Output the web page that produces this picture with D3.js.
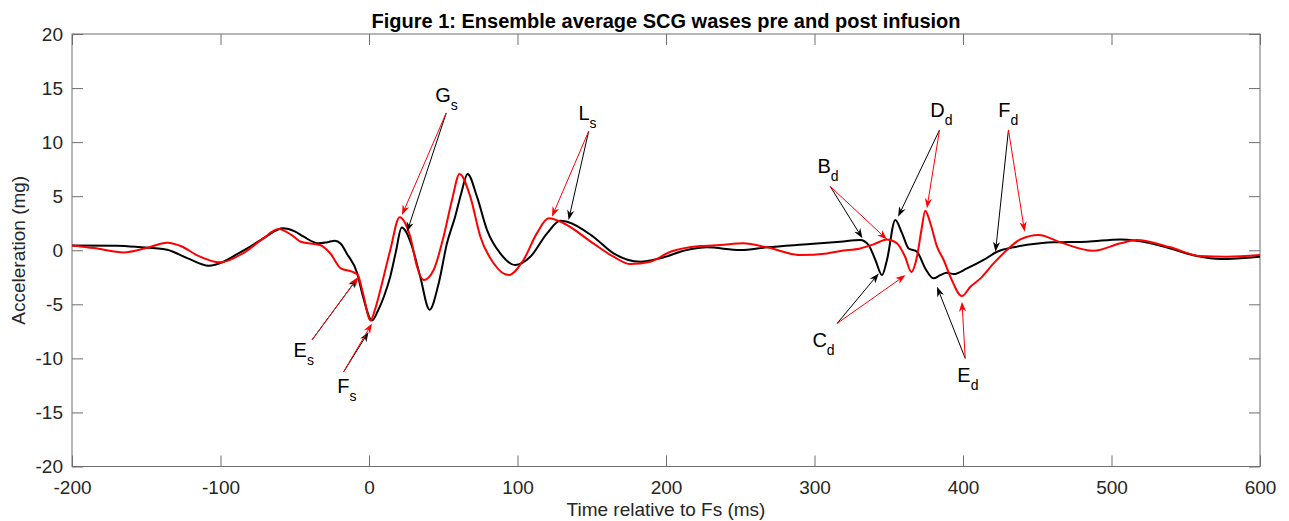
<!DOCTYPE html>
<html>
<head>
<meta charset="utf-8">
<script src="https://cdn.jsdelivr.net/npm/d3@7"></script>
<style>
  body { margin: 0; background: #fff; }
  svg { font-family: "Liberation Sans", Arial, Helvetica, sans-serif; }
</style>
</head>
<body>
<svg id="chart" width="1289" height="521"></svg>
<script>
// pre infusion ensemble average (black), [time ms, acceleration mg]
const preWave = [
  [-200, 0.45], [-170, 0.42], [-155, 0.3], [-136, 0.05], [-122, -0.75], [-108, -1.43],
  [-98, -1.06], [-90, -0.45], [-82, 0.17], [-70, 1.2], [-58, 2.03], [-50, 1.75],
  [-44, 1.25], [-34, 0.64], [-28, 0.75], [-23, 0.88], [-19, 0.6], [-15, -0.29],
  [-8, -2.1], [-4, -4.3], [2, -6.5], [6, -5.6], [10, -4.3], [14.3, -2.45],
  [18, -0.2], [22, 2.1], [25, 1.7], [29, 0.33], [34.5, -2.45], [40.8, -5.5],
  [46.9, -3.07], [52.5, 0.64], [58, 3.1], [62, 5.2], [66.4, 7.06], [72.7, 4.96],
  [79.5, 1.87], [88.4, -0.29], [98.5, -1.37], [108.6, -0.6], [119.9, 1.56], [128.8, 2.73],
  [133.3, 2.64], [151, 1.25], [164.7, -0.29], [182.7, -1.06], [196, -0.75], [214, 0.02],
  [227.6, 0.27], [250, 0.02], [268, 0.27], [297, 0.57], [317.4, 0.79], [330.8, 0.94],
  [336.4, 0.48], [341, -0.9], [345.5, -2.3], [348.8, -0.9], [354.4, 2.8], [359, 1.56],
  [363.4, 0.17], [369, -0.14], [374.6, -1.68], [380.2, -2.6], [384.7, -2.3], [389.2, -2.08],
  [393.7, -2.2], [402.7, -1.68], [413.9, -0.9], [423, -0.14], [434, 0.27], [452, 0.64],
  [461, 0.73], [483.5, 0.79], [506, 1.0], [517, 0.88], [539.6, 0.17], [557.6, -0.54],
  [573.3, -0.81], [600, -0.6]
];

// post infusion ensemble average (red)
const postWave = [
  [-200, 0.45], [-185, 0.2], [-165, -0.2], [-150, 0.2], [-136, 0.7], [-126, 0.35],
  [-116, -0.45], [-100, -1.12], [-85, -0.29], [-72, 1.0], [-61, 1.96], [-52, 1.4],
  [-46, 0.79], [-33, 0.48], [-26, -0.3], [-19, -1.68], [-11, -2.0], [-7.5, -2.3],
  [-4, -4.0], [1, -6.5], [4, -5.5], [7.6, -3.7], [14.3, 0], [20.6, 3.05],
  [24, 2.6], [27.8, 1.25], [32.3, -1.5], [36.8, -2.76], [43.5, -1.83], [50.2, 1.25],
  [55.9, 4.65], [61, 7.06], [68.2, 4.96], [75, 1.25], [83.9, -1.2], [94, -2.3],
  [104, -0.9], [113, 1.56], [121, 2.95], [131, 2.5], [151, 0.64], [164.7, -0.6],
  [176, -1.28], [189.4, -1.06], [203, -0.14], [223, 0.39], [236.6, 0.48], [252, 0.64],
  [268, 0.27], [290.4, -0.44], [308.4, -0.29], [317.4, -0.07], [330.8, 0.17], [339.8, 0.54],
  [348.8, 1.0], [355.5, 0.64], [361, -0.6], [365.2, -2.0], [369, -0.6], [372, 1.87],
  [374.6, 3.66], [378, 2.5], [382.5, 0.33], [387, -0.9], [391.5, -2.45], [399.3, -4.24],
  [405, -3.37], [411.8, -2.6], [420.6, -1.22], [429.6, 0.02], [438.6, 1.0], [451, 1.41],
  [465.6, 0.73], [488, -0.05], [506, 0.64], [517, 0.94], [539.6, 0.27], [559.8, -0.54],
  [577.8, -0.6], [600, -0.44]
];

const xTicks = [-200, -100, 0, 100, 200, 300, 400, 500, 600];
const yTicks = [-20, -15, -10, -5, 0, 5, 10, 15, 20];

// wave labels: text anchor, arrow origin, arrow tips on pre / post curves (data units)
const labels = [
  { main: "E", sub: "s", at: [-50.8, -9.9], from: [-38.4, -8.3], pre: [-7.9, -2.6], post: [-7, -2.45] },
  { main: "F", sub: "s", at: [-21.3, -13.2], from: [-17.1, -11.25], pre: [-0.3, -7.55], post: [2, -6.77] },
  { main: "G", sub: "s", at: [44.6, 13.7], from: [52, 12.7], pre: [25.6, 1.7], post: [22.2, 3.26] },
  { main: "L", sub: "s", at: [141, 12.05], from: [147.9, 11], pre: [134.4, 2.8], post: [123.2, 3.1] },
  { main: "B", sub: "d", at: [302, 7.15], from: [310.6, 5.9], pre: [332.3, 1.1], post: [348.8, 1.0] },
  { main: "C", sub: "d", at: [298.6, -8.95], from: [315.2, -6.77], pre: [343.3, -2.14], post: [361.3, -2.3] },
  { main: "D", sub: "d", at: [378, 12.3], from: [384.2, 11.13], pre: [356.3, 3.1], post: [375.7, 3.88] },
  { main: "E", sub: "d", at: [396.2, -12.2], from: [401.5, -10], pre: [382.5, -3.38], post: [399.3, -4.77] },
  { main: "F", sub: "d", at: [423.7, 12.3], from: [430.6, 11.13], pre: [421.9, -0.14], post: [441.5, 1.71] }
];

const svg = d3.select("#chart");
const plotLeft = 72, plotRight = 1260, plotTop = 34, plotBottom = 466.5;

const x = d3.scaleLinear().domain([-200, 600]).range([plotLeft, plotRight]);
const y = d3.scaleLinear().domain([-20, 20]).range([plotBottom, plotTop]);

// title
svg.append("text")
  .attr("x", (plotLeft + plotRight) / 2)
  .attr("y", 28)
  .attr("text-anchor", "middle")
  .attr("font-weight", "bold")
  .attr("font-size", 20)
  .attr("fill", "#000")
  .text("Figure 1: Ensemble average SCG wases pre and post infusion");

// axes (MATLAB style, ticks pointing in, box all round)
const tickLen = 11;
const plain = d => String(d);   // hyphen minus like matlab, not the unicode one
function styleAxis(g) {
  g.select(".domain").remove();
  g.selectAll(".tick line").attr("stroke", "#6e6e6e");
  g.selectAll(".tick text").attr("fill", "#262626").attr("font-size", 19)
    .attr("font-family", "\"Liberation Sans\", Arial, sans-serif");
}

svg.append("g")
  .attr("transform", `translate(0,${plotBottom})`)
  .call(d3.axisBottom(x).tickValues(xTicks).tickFormat(plain)
    .tickSizeInner(-tickLen).tickSizeOuter(0).tickPadding(14))
  .call(styleAxis);

svg.append("g")
  .attr("transform", `translate(0,${plotTop})`)
  .call(d3.axisTop(x).tickValues(xTicks).tickSizeInner(-tickLen).tickSizeOuter(0).tickFormat(""))
  .call(styleAxis);

svg.append("g")
  .attr("transform", `translate(${plotLeft},0)`)
  .call(d3.axisLeft(y).tickValues(yTicks).tickFormat(plain)
    .tickSizeInner(-tickLen).tickSizeOuter(0).tickPadding(9))
  .call(styleAxis);

svg.append("g")
  .attr("transform", `translate(${plotRight},0)`)
  .call(d3.axisRight(y).tickValues(yTicks).tickSizeInner(-tickLen).tickSizeOuter(0).tickFormat(""))
  .call(styleAxis);

svg.append("rect")
  .attr("x", plotLeft).attr("y", plotTop)
  .attr("width", plotRight - plotLeft).attr("height", plotBottom - plotTop)
  .attr("fill", "none")
  .attr("stroke", "#6e6e6e")
  .attr("stroke-width", 1);

// axis labels
svg.append("text")
  .attr("x", (plotLeft + plotRight) / 2)
  .attr("y", 516)
  .attr("text-anchor", "middle")
  .attr("font-size", 19)
  .attr("fill", "#262626")
  .text("Time relative to Fs (ms)");

svg.append("text")
  .attr("transform", `translate(25,${(plotTop + plotBottom) / 2}) rotate(-90)`)
  .attr("text-anchor", "middle")
  .attr("font-size", 19)
  .attr("fill", "#262626")
  .text("Acceleration (mg)");

// waves
const line = d3.line()
  .x(d => x(d[0]))
  .y(d => y(d[1]))
  .curve(d3.curveMonotoneX);

svg.append("path")
  .datum(preWave)
  .attr("fill", "none")
  .attr("stroke", "#000")
  .attr("stroke-width", 2)
  .attr("d", line);

svg.append("path")
  .datum(postWave)
  .attr("fill", "none")
  .attr("stroke", "#ff0000")
  .attr("stroke-width", 2)
  .attr("d", line);

// arrows
function arrow(from, to, color) {
  const x0 = x(from[0]), y0 = y(from[1]);
  const x1 = x(to[0]), y1 = y(to[1]);
  const ang = Math.atan2(y1 - y0, x1 - x0);
  const len = 10, half = 3.6, notch = 7;
  const g = svg.append("g");
  g.append("line")
    .attr("x1", x0).attr("y1", y0)
    .attr("x2", x1 - Math.cos(ang) * notch).attr("y2", y1 - Math.sin(ang) * notch)
    .attr("stroke", color)
    .attr("stroke-width", 1);
  const pts = [
    [0, 0], [-len, half], [-notch, 0], [-len, -half]
  ].map(p => [
    x1 + p[0] * Math.cos(ang) - p[1] * Math.sin(ang),
    y1 + p[0] * Math.sin(ang) + p[1] * Math.cos(ang)
  ]);
  g.append("path")
    .attr("d", "M" + pts.map(p => p.join(",")).join("L") + "Z")
    .attr("fill", color);
}

labels.forEach(d => {
  arrow(d.from, d.pre, "#000");
  arrow(d.from, d.post, "#ff0000");

  const t = svg.append("text")
    .attr("x", x(d.at[0]))
    .attr("y", y(d.at[1]))
    .attr("font-size", 20)
    .attr("fill", "#000");
  t.append("tspan").text(d.main);
  t.append("tspan")
    .attr("font-size", 14)
    .attr("dy", 8)
    .text(d.sub);
});
</script>
</body>
</html>
